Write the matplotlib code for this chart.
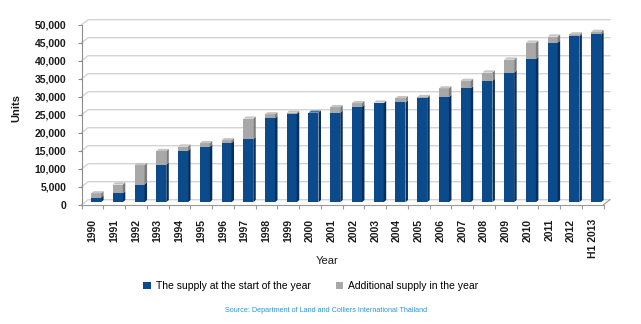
import numpy as np
import matplotlib.pyplot as plt
from matplotlib.patches import Polygon
from matplotlib.transforms import ScaledTranslation

# data (units)
years = ["1990", "1991", "1992", "1993", "1994", "1995", "1996", "1997", "1998",
         "1999", "2000", "2001", "2002", "2003", "2004", "2005", "2006", "2007",
         "2008", "2009", "2010", "2011", "2012", "H1 2013"]
start_supply = [1300, 2450, 4900, 10400, 14300, 15400, 16450, 17500, 23300,
                24500, 24850, 24900, 26500, 27500, 27700, 28900, 29200, 31600,
                33700, 36000, 39800, 44300, 46100, 46600]
added_supply = [1150, 2450, 5400, 3800, 1150, 1000, 750, 5700, 1100,
                350, 0, 1500, 1000, 150, 1200, 300, 2400, 2100,
                2300, 3600, 4500, 1700, 500, 700]
y_ticks = list(range(0, 50001, 5000))

series_names = ["The supply at the start of the year", "Additional supply in the year"]
source_text = "Source: Department of Land and Colliers International Thailand"

# colours
blue_front, blue_side, blue_top = "#0b4a8b", "#062f5c", "#3c6fa8"
grey_front, grey_side, grey_top = "#a8a8a8", "#7c7c7c", "#c4c4c4"

plt.rcParams['font.family'] = ['Liberation Sans', 'DejaVu Sans']

W, H = 641, 324
fig = plt.figure(figsize=(W / 100, H / 100), dpi=100)
ax_w, ax_h = 521.8, 180.0
ax = fig.add_axes([81.7 / W, 1 - 204.7 / H, ax_w / W, ax_h / H])
n = len(years)
ax.set_xlim(-0.5, n - 0.5)
ax.set_ylim(0, 50000)

# pixel -> data helpers for the fake 3D depth
sx = n / ax_w
sy = 50000 / ax_h


def shift(px, py):
    return ScaledTranslation(px / 100, py / 100, fig.dpi_scale_trans)


# back wall gridlines (with the small slant on the left wall)
bx, by = 6.5, 5.0
for v in y_ticks:
    ax.plot([-0.5, -0.5 + bx * sx, n - 0.5 + bx * sx], [v, v + by * sy, v + by * sy],
            color="#d4d4d4", lw=1, clip_on=False, zorder=0)
# floor right edge slant
ax.plot([n - 0.5, n - 0.5 + bx * sx], [0, by * sy], color="#9a9a9a", lw=0.8,
        clip_on=False, zorder=1)

# bars: front faces from ax.bar, side and top faces as polygons
bar_plane = ax.transData + shift(3.5, 2.5)
w = 0.46
dx, dy = 2.5 * sx, 2.2 * sy
x = np.arange(n)
b1 = ax.bar(x, start_supply, w, color=blue_front, label=series_names[0], zorder=3)
b2 = ax.bar(x, added_supply, w, bottom=start_supply, color=grey_front,
            label=series_names[1], zorder=3)
for p in list(b1) + list(b2):
    p.set_transform(bar_plane)
    p.set_clip_on(False)

for i in range(n):
    segs = [(0, start_supply[i], blue_side, blue_top)]
    if added_supply[i] > 0:
        segs.append((start_supply[i], start_supply[i] + added_supply[i], grey_side, grey_top))
    xr = x[i] + w / 2
    xl = x[i] - w / 2
    for lo, hi, side_c, _ in segs:
        side = Polygon([(xr, lo), (xr + dx, lo + dy), (xr + dx, hi + dy), (xr, hi)],
                       closed=True, facecolor=side_c, edgecolor="none",
                       transform=bar_plane, zorder=3, clip_on=False)
        ax.add_patch(side)
    top = segs[-1][1]
    cap = Polygon([(xl, top), (xr, top), (xr + dx, top + dy), (xl + dx, top + dy)],
                  closed=True, facecolor=segs[-1][3], edgecolor="none",
                  transform=bar_plane, zorder=3, clip_on=False)
    ax.add_patch(cap)

# axes styling
for s in ["top", "right"]:
    ax.spines[s].set_visible(False)
ax.spines["left"].set_color("#8c8c8c")
ax.spines["bottom"].set_color("#9a9a9a")
ax.spines["left"].set_linewidth(0.8)
ax.spines["bottom"].set_linewidth(0.8)
ax.set_facecolor("none")

ax.set_yticks(y_ticks)
ax.set_yticklabels([f"{v:,}" for v in y_ticks], fontsize=7.5, fontweight="bold",
                   color="#1a1a1a")
ax.tick_params(axis="y", length=3, width=0.8, color="#8c8c8c", pad=8)

ax.set_xticks(x)
ax.set_xticklabels(years, rotation=90, fontsize=7.5, fontweight="bold", color="#1a1a1a")
ax.set_xticks(np.arange(n + 1) - 0.5, minor=True)
ax.tick_params(axis="x", which="major", length=0, pad=10)
ax.tick_params(axis="x", which="minor", length=3, width=0.8, color="#9a9a9a")

fig.text(16.7 / W, 1 - 108 / H, "Units", rotation=90, ha="center", va="center",
         fontsize=8, fontweight="bold", color="#1a1a1a")
fig.text(327.5 / W, 1 - 261.5 / H, "Year", ha="center", va="center", fontsize=8,
         color="#1a1a1a")

fig.legend(handles=[b1, b2], labels=series_names, loc="center",
           bbox_to_anchor=(311 / W, 1 - 286.3 / H), ncol=2, frameon=False,
           fontsize=7.5, handlelength=0.7, handleheight=0.7, handletextpad=0.5,
           columnspacing=2.4)

fig.text(326 / W, 1 - 310.3 / H, source_text, ha="center", va="center",
         fontsize=5.2, color="#2f95d6")

fig.savefig("out.png", dpi=100)
